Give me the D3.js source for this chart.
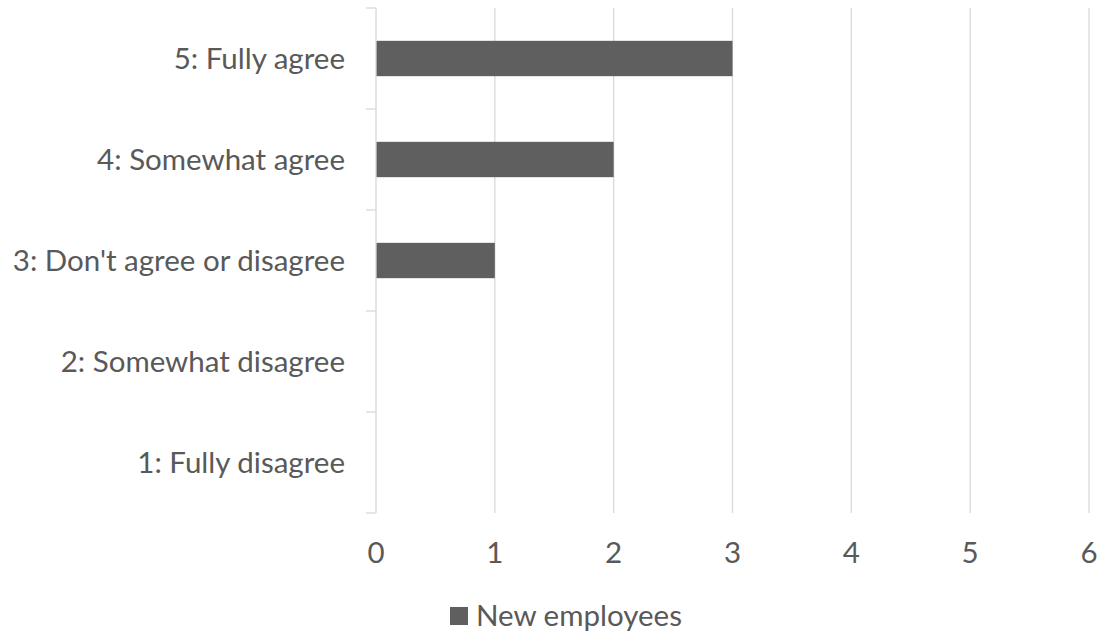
<!DOCTYPE html>
<html>
<head>
<meta charset="utf-8">
<script src="https://cdn.jsdelivr.net/npm/d3@7"></script>
<style>
  body { margin: 0; background: #fff; }
  text { font-family: Lato, "Open Sans", sans-serif; fill: #595959; }
</style>
</head>
<body>
<div id="chart"></div>
<script>
// survey answers, bottom to top as drawn
let categories = ["1: Fully disagree", "2: Somewhat disagree", "3: Don't agree or disagree", "4: Somewhat agree", "5: Fully agree"];
let newEmployees = [0, 0, 1, 2, 3];
let xTicks = [0, 1, 2, 3, 4, 5, 6];
let seriesName = "New employees";

let width = 1102, height = 633;
let plotLeft = 376, plotRight = 1089, plotTop = 8, plotBottom = 513;
let fontSize = "29.5px";

let svg = d3.select("#chart").append("svg")
            .attr("width", width).attr("height", height);

let x = d3.scaleLinear().domain([0, 6]).range([plotLeft, plotRight]);
let y = d3.scaleBand().domain(categories.slice().reverse()).range([plotTop, plotBottom]).paddingInner(0.65).paddingOuter(0.325);
let yb = d3.scaleBand().domain(categories.slice().reverse()).range([plotTop, plotBottom]);

// vertical gridlines
svg.append("g").selectAll("line")
   .data(xTicks.filter(d => d > 0))
   .enter().append("line")
   .attr("x1", d => x(d)).attr("x2", d => x(d))
   .attr("y1", plotTop).attr("y2", plotBottom)
   .attr("stroke", "#d9d9d9").attr("stroke-width", 1.3);

// bars
let data = categories.map((c, i) => ({ cat: c, val: newEmployees[i] }));
svg.append("g").selectAll("rect")
   .data(data.filter(d => d.val > 0))
   .enter().append("rect")
   .attr("x", x(0))
   .attr("y", d => y(d.cat))
   .attr("width", d => x(d.val) - x(0))
   .attr("height", y.bandwidth())
   .attr("fill", "#5f5f5f");

// category axis with ticks between the bands
let yAxis = svg.append("g");
yAxis.append("line")
     .attr("x1", plotLeft).attr("x2", plotLeft).attr("y1", plotTop).attr("y2", plotBottom)
     .attr("stroke", "#d9d9d9").attr("stroke-width", 1.3);
let bounds = categories.map(c => yb(c)).concat([plotBottom]);
yAxis.selectAll("line.tick")
     .data(bounds)
     .enter().append("line").attr("class", "tick")
     .attr("x1", plotLeft - 10).attr("x2", plotLeft)
     .attr("y1", d => d).attr("y2", d => d)
     .attr("stroke", "#d9d9d9").attr("stroke-width", 1.3);
yAxis.selectAll("text")
     .data(categories)
     .enter().append("text")
     .attr("x", plotLeft - 31)
     .attr("y", d => yb(d) + yb.bandwidth() / 2)
     .attr("dy", "0.35em")
     .attr("text-anchor", "end")
     .style("font-size", fontSize)
     .text(d => d);

// value axis labels
svg.append("g").selectAll("text")
   .data(xTicks)
   .enter().append("text")
   .attr("x", d => x(d))
   .attr("y", 553)
   .attr("dy", "0.35em")
   .attr("text-anchor", "middle")
   .style("font-size", fontSize)
   .text(d => d);

// legend
let legend = svg.append("g");
legend.append("rect")
      .attr("x", 450).attr("y", 607).attr("width", 18).attr("height", 18)
      .attr("fill", "#5f5f5f");
legend.append("text")
      .attr("x", 476).attr("y", 616)
      .attr("dy", "0.35em")
      .style("font-size", fontSize)
      .text(seriesName);
</script>
</body>
</html>
